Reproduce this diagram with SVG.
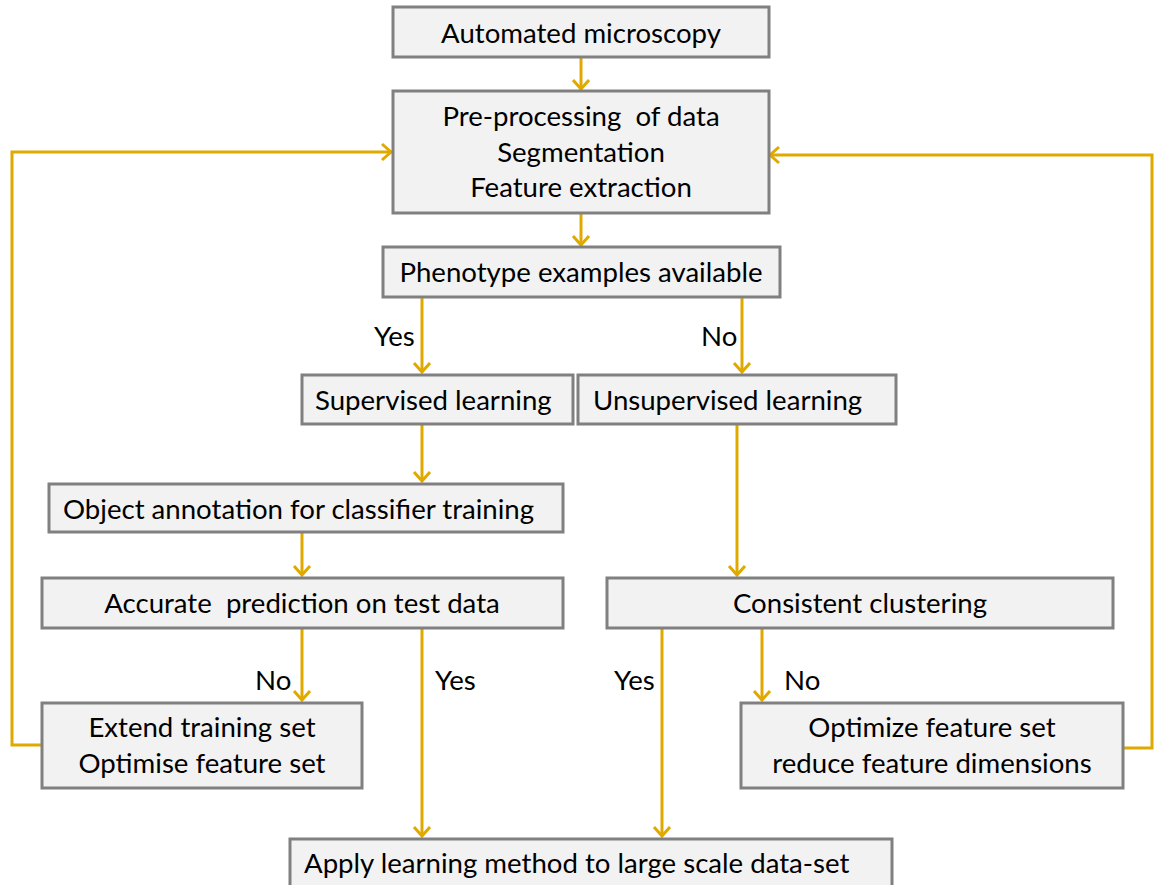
<svg xmlns="http://www.w3.org/2000/svg" width="1154" height="885" viewBox="0 0 1154 885">
<style>
.box{fill:#F2F2F2;stroke:#808080;stroke-width:3}
.t{font-family:Lato,"Open Sans","Liberation Sans",sans-serif;font-size:27.6px;fill:#000}
.c{text-anchor:middle}
.lbl{font-family:Lato,"Open Sans","Liberation Sans",sans-serif;font-size:27.6px;fill:#000}
.e{fill:none;stroke:#E0A900;stroke-width:3;marker-end:url(#ah)}
</style>
<defs>
<marker id="ah" markerUnits="userSpaceOnUse" markerWidth="24" markerHeight="24" refX="0" refY="0" viewBox="-12 -12 24 24" orient="auto" overflow="visible">
<path d="M-9,-8 L0,0 L-9,8" fill="none" stroke="#E0A900" stroke-width="3" stroke-linejoin="miter"/>
</marker>
</defs>
<g id="connectors">
<path class="e" d="M581,57 V89"/>
<path class="e" d="M42,745 H12 V152 H391"/>
<path class="e" d="M1123,748 H1152 V155 H770"/>
<path class="e" d="M581,213 V245"/>
<path class="e" d="M422,297 V372"/>
<path class="e" d="M742,297 V372"/>
<path class="e" d="M422,424 V481"/>
<path class="e" d="M737,424 V575"/>
<path class="e" d="M302,532 V575"/>
<path class="e" d="M302,628 V700"/>
<path class="e" d="M422,628 V836"/>
<path class="e" d="M662,628 V836"/>
<path class="e" d="M762,628 V700"/>
<text class="lbl" x="374" y="346">Yes</text>
<text class="lbl" x="701" y="346">No</text>
<text class="lbl" x="255" y="690">No</text>
<text class="lbl" x="435" y="690">Yes</text>
<text class="lbl" x="614" y="690">Yes</text>
<text class="lbl" x="784" y="690">No</text>
</g>
<g id="n1"><rect class="box" x="393" y="7" width="376" height="50"/><text class="t c" x="581" y="43">Automated microscopy</text></g>
<g id="n2"><rect class="box" x="393" y="91" width="376" height="122"/>
<text class="t c" x="581" y="126" xml:space="preserve">Pre-processing  of data</text>
<text class="t c" x="581" y="162">Segmentation</text>
<text class="t c" x="581" y="197">Feature extraction</text></g>
<g id="n3"><rect class="box" x="383" y="247" width="397" height="50"/><text class="t c" x="581" y="282">Phenotype examples available</text></g>
<g id="n4"><rect class="box" x="302" y="375" width="271" height="49"/><text class="t" x="315" y="410">Supervised learning</text></g>
<g id="n5"><rect class="box" x="578" y="375" width="318" height="49"/><text class="t" x="593" y="410">Unsupervised learning</text></g>
<g id="n6"><rect class="box" x="49" y="484" width="514" height="48"/><text class="t" x="63" y="519">Object annotation for classifier training</text></g>
<g id="n7"><rect class="box" x="42" y="578" width="521" height="50"/><text class="t c" x="302" y="613" xml:space="preserve">Accurate  prediction on test data</text></g>
<g id="n8"><rect class="box" x="607" y="578" width="506" height="50"/><text class="t c" x="860" y="613">Consistent clustering</text></g>
<g id="n9"><rect class="box" x="42" y="703" width="320" height="85"/>
<text class="t c" x="202" y="737">Extend training set</text>
<text class="t c" x="202" y="773">Optimise feature set</text></g>
<g id="n10"><rect class="box" x="741" y="703" width="382" height="85"/>
<text class="t c" x="932" y="737">Optimize feature set</text>
<text class="t c" x="932" y="773">reduce feature dimensions</text></g>
<g id="n11"><rect class="box" x="290" y="839" width="602" height="60"/><text class="t" x="304" y="873">Apply learning method to large scale data-set</text></g>
</svg>
